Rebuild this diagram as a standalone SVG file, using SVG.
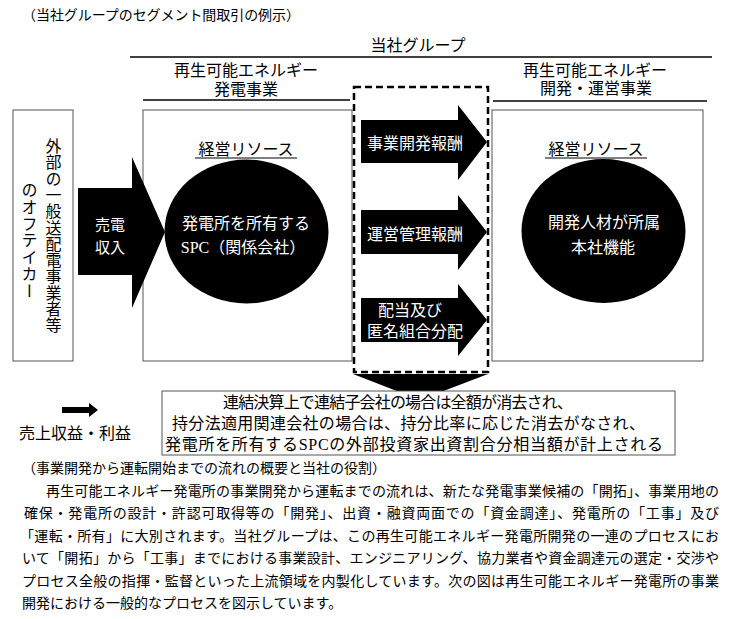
<svg xmlns="http://www.w3.org/2000/svg" width="729" height="619" viewBox="0 0 729 619">
<style>
.m{font-family:"Liberation Serif","Noto Sans CJK JP",serif;font-size:16px;fill:#000}
.w{fill:#fff}
.s{font-family:"Noto Sans CJK JP","Liberation Sans",sans-serif;font-size:14px;fill:#000}
.c{text-anchor:middle}
.box{fill:#fff;stroke:#555;stroke-width:1}
.rule{stroke:#000;stroke-width:1.5;fill:none}
.ul{stroke:#000;stroke-width:1}
.dash{fill:none;stroke:#000;stroke-width:2.5;stroke-dasharray:7 4}
.v{writing-mode:vertical-rl}
.blk{fill:#000}
</style>
<rect width="729" height="619" fill="#fff"/>

<text class="s" x="22" y="20" textLength="278">（当社グループのセグメント間取引の例示）</text>

<g id="group-header">
<text class="m c" x="418" y="51">当社グループ</text>
<line class="rule" x1="130" y1="57" x2="712" y2="57"/>
</g>

<g id="external">
<rect class="box" x="13" y="110" width="60" height="251"/>
<text class="m v" x="52" y="138" letter-spacing="0.3">外部の一般送配電事業者等</text>
<text class="m v" x="28" y="182" letter-spacing="0.8">のオフテイカー</text>
</g>

<g id="segment-power">
<text class="m c" x="246" y="76">再生可能エネルギー</text>
<text class="m c" x="246" y="95">発電事業</text>
<line class="rule" x1="143" y1="100" x2="350" y2="100"/>
<rect class="box" x="143" y="110" width="209" height="251"/>
<text class="m c" x="246" y="155">経営リソース</text>
<line class="ul" x1="195" y1="158" x2="297" y2="158"/>
<ellipse class="blk" cx="246.5" cy="231.5" rx="82" ry="72"/>
<text class="m c w" x="246" y="229">発電所を所有する</text>
<text class="m c w" x="243" y="253">SPC（関係会社）</text>
</g>

<g id="segment-dev">
<text class="m c" x="595" y="76">再生可能エネルギー</text>
<text class="m c" x="596" y="94">開発・運営事業</text>
<line class="rule" x1="493" y1="101" x2="707" y2="101"/>
<rect class="box" x="492" y="110" width="211" height="251"/>
<text class="m c" x="596" y="155">経営リソース</text>
<line class="ul" x1="545" y1="158" x2="647" y2="158"/>
<ellipse class="blk" cx="603.5" cy="231" rx="82" ry="72"/>
<text class="m c w" x="604" y="228">開発人材が所属</text>
<text class="m c w" x="603" y="253">本社機能</text>
</g>

<g id="intersegment">
<rect class="dash" x="354" y="87" width="134" height="285"/>
</g>

<g id="connectors">
<polygon class="blk" points="78,188 132,188 132,157 165,232 132,308 132,275 78,275"/>
<text class="m c w" x="110" y="230" style="font-size:15px">売電</text>
<text class="m c w" x="110" y="253" style="font-size:15px">収入</text>

<polygon class="blk" points="361,120 458,120 458,105 487,142 458,180 458,163 361,163"/>
<text class="m c w" x="415" y="149">事業開発報酬</text>

<polygon class="blk" points="361,210 458,210 458,195 487,232 458,270 458,254 361,254"/>
<text class="m c w" x="415" y="240">運営管理報酬</text>

<polygon class="blk" points="361,298 458,298 458,284 487,320 458,356 458,342 361,342"/>
<text class="m c w" x="410" y="316">配当及び</text>
<text class="m c w" x="415" y="337">匿名組合分配</text>

<polygon class="blk" points="353,374 488,374 420,400"/>
</g>

<g id="elimination-note">
<rect class="box" x="162" y="391" width="513" height="64"/>
<text class="m" x="223" y="408" textLength="350">連結決算上で連結子会社の場合は全額が消去され、</text>
<text class="m" x="172" y="429" textLength="473">持分法適用関連会社の場合は、持分比率に応じた消去がなされ、</text>
<text class="m" x="165" y="450" textLength="498">発電所を所有するSPCの外部投資家出資割合分相当額が計上される</text>
</g>

<g id="legend">
<polygon class="blk" points="62,407 89,407 89,403 98,410 89,417 89,413 62,413"/>
<text class="s c" x="75" y="439" style="font-size:16px">売上収益・利益</text>
</g>

<g id="paragraph" class="s">
<text x="22" y="473" textLength="364">（事業開発から運転開始までの流れの概要と当社の役割）</text>
<text x="46" y="496" textLength="673">再生可能エネルギー発電所の事業開発から運転までの流れは、新たな発電事業候補の「開拓」、事業用地の</text>
<text x="24" y="518" textLength="695">確保・発電所の設計・許認可取得等の「開発」、出資・融資両面での「資金調達」、発電所の「工事」及び</text>
<text x="20" y="541" textLength="699">「運転・所有」に大別されます。当社グループは、この再生可能エネルギー発電所開発の一連のプロセスにお</text>
<text x="22" y="563" textLength="697">いて「開拓」から「工事」までにおける事業設計、エンジニアリング、協力業者や資金調達元の選定・交渉や</text>
<text x="22" y="586" textLength="697">プロセス全般の指揮・監督といった上流領域を内製化しています。次の図は再生可能エネルギー発電所の事業</text>
<text x="22" y="608">開発における一般的なプロセスを図示しています。</text>
</g>
</svg>
